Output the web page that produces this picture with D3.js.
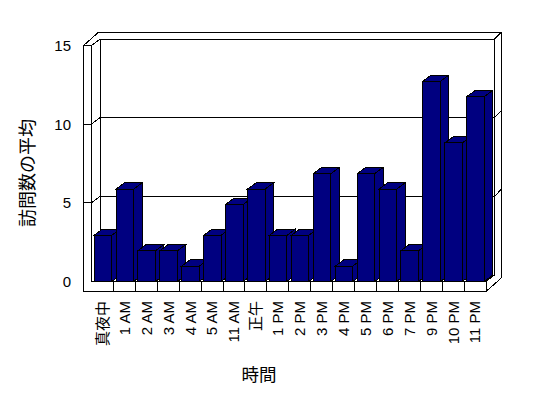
<!DOCTYPE html>
<html><head><meta charset="utf-8">
<script src="https://cdn.jsdelivr.net/npm/d3@7"></script>
<style>
html,body{margin:0;padding:0;background:#fff;}
svg{display:block;}
text{font-family:"Liberation Sans","Noto Sans CJK JP",sans-serif;fill:#000;}
</style></head>
<body>
<script>
const categories = ["真夜中","1 AM","2 AM","3 AM","4 AM","5 AM","11 AM","正午","1 PM","2 PM","3 PM","4 PM","5 PM","6 PM","7 PM","9 PM","10 PM","11 PM"];
const values = [3,6,2,2,1,3,5,6,3,3,7,1,7,6,2,13,9,12];
const yTicks = [0,5,10,15];
const yTitle = "訪問数の平均";
const xTitle = "時間";

const Wd = 548, Ht = 398;
const svg = d3.select("body").append("svg").attr("width", Wd).attr("height", Ht);
const g = svg.append("g").attr("shape-rendering","crispEdges");

// 3D geometry
const Lx = 83.5, X0 = 91.5, X1 = 486, yBase = 281.5, yTopF = 45.5, floorB = 291.5;
const d1 = [8.5, -6.5];   // front plane -> back wall front surface
const d2 = [15, -13.2];   // front plane -> back wall back surface
const bd = [8.5, -6.3];   // bar depth

const x = d3.scaleBand().domain(categories).range([X0, X1]);
const y = d3.scaleLinear().domain([0, 15]).range([yBase, yTopF]);       // front axis
const yb = d3.scaleLinear().domain([0, 15]).range([yBase, yBase - 231]); // bar face

const line = (pts) => g.append("path").attr("d", d3.line()(pts)).attr("fill","none").attr("stroke","#000").attr("stroke-width",1);

// walls outline
line([[Lx, floorB], [Lx, yTopF], [X0, yTopF]]);
line([[Lx, yTopF], [Lx + d2[0], yTopF + d2[1]], [X1 + d2[0], yTopF + d2[1]], [X1 + d2[0], floorB + d2[1]]]);
line([[X0, yBase], [X0, yTopF], [X0 + d1[0], yTopF + d1[1]], [X1 + d1[0], yTopF + d1[1]], [X1 + d2[0], yTopF + d2[1]]]);
line([[X0 + d1[0], yTopF + d1[1]], [X0 + d1[0], yBase + d1[1]], [X1 + d1[0], yBase + d1[1]]]);
line([[X1 + d1[0], yTopF + d1[1]], [X1 + d1[0], yBase + d1[1]]]);

// gridlines
yTicks.filter(v => v > 0 && v < 15).forEach(v => {
  const yy = y(v);
  line([[Lx, yy], [X0, yy], [X0 + d1[0], yy + d1[1]], [X1 + d1[0], yy + d1[1]], [X1 + d2[0], yy + d2[1]]]);
});

// floor
line([[Lx, floorB], [X1, floorB], [X1, yBase], [X0, yBase]]);
line([[X1, yBase], [X1 + d1[0], yBase + d1[1]]]);
line([[X1, floorB], [X1 + d2[0], floorB + d2[1]]]);
categories.forEach((c, i) => { if (i > 0) line([[x(c), yBase], [x(c), floorB]]); });

// bars
const bw = x.bandwidth() * 0.8, boff = x.bandwidth() * 0.12;
const bars = g.append("g");
categories.forEach((c, i) => {
  const v = values[i];
  const x0 = x(c) + boff, x1 = x0 + bw, t = yb(v), b = yBase;
  const bg = bars.append("g").attr("fill", "#000080").attr("stroke", "#000").attr("stroke-width", 1);
  bg.append("path").attr("d", d3.line()([[x1, t], [x1 + bd[0], t + bd[1]], [x1 + bd[0], b + bd[1]], [x1, b]]) + "Z");
  bg.append("path").attr("d", d3.line()([[x0, t], [x0 + bd[0], t + bd[1]], [x1 + bd[0], t + bd[1]], [x1, t]]) + "Z");
  bg.append("rect").attr("x", x0).attr("y", t).attr("width", bw).attr("height", b - t);
});

// y tick labels
svg.append("g").selectAll("text").data(yTicks).join("text")
  .attr("x", 71).attr("y", d => y(d)).attr("dy", "0.36em")
  .attr("text-anchor", "end").attr("font-size", 15).text(d => d);

// category labels
svg.append("g").selectAll("text").data(categories).join("text")
  .attr("transform", d => `translate(${x(d) + x.bandwidth() / 2},301) rotate(-90)`)
  .attr("dy", "0.36em").attr("text-anchor", "end").attr("font-size", 15).text(d => d);

// axis titles
svg.append("text").attr("transform", "translate(28,173) rotate(-90)")
  .attr("text-anchor", "middle").attr("dy", "0.36em").attr("font-size", 18).text(yTitle);
svg.append("text").attr("x", 259).attr("y", 375).attr("dy", "0.36em")
  .attr("text-anchor", "middle").attr("font-size", 17.5).text(xTitle);
</script>
</body></html>
